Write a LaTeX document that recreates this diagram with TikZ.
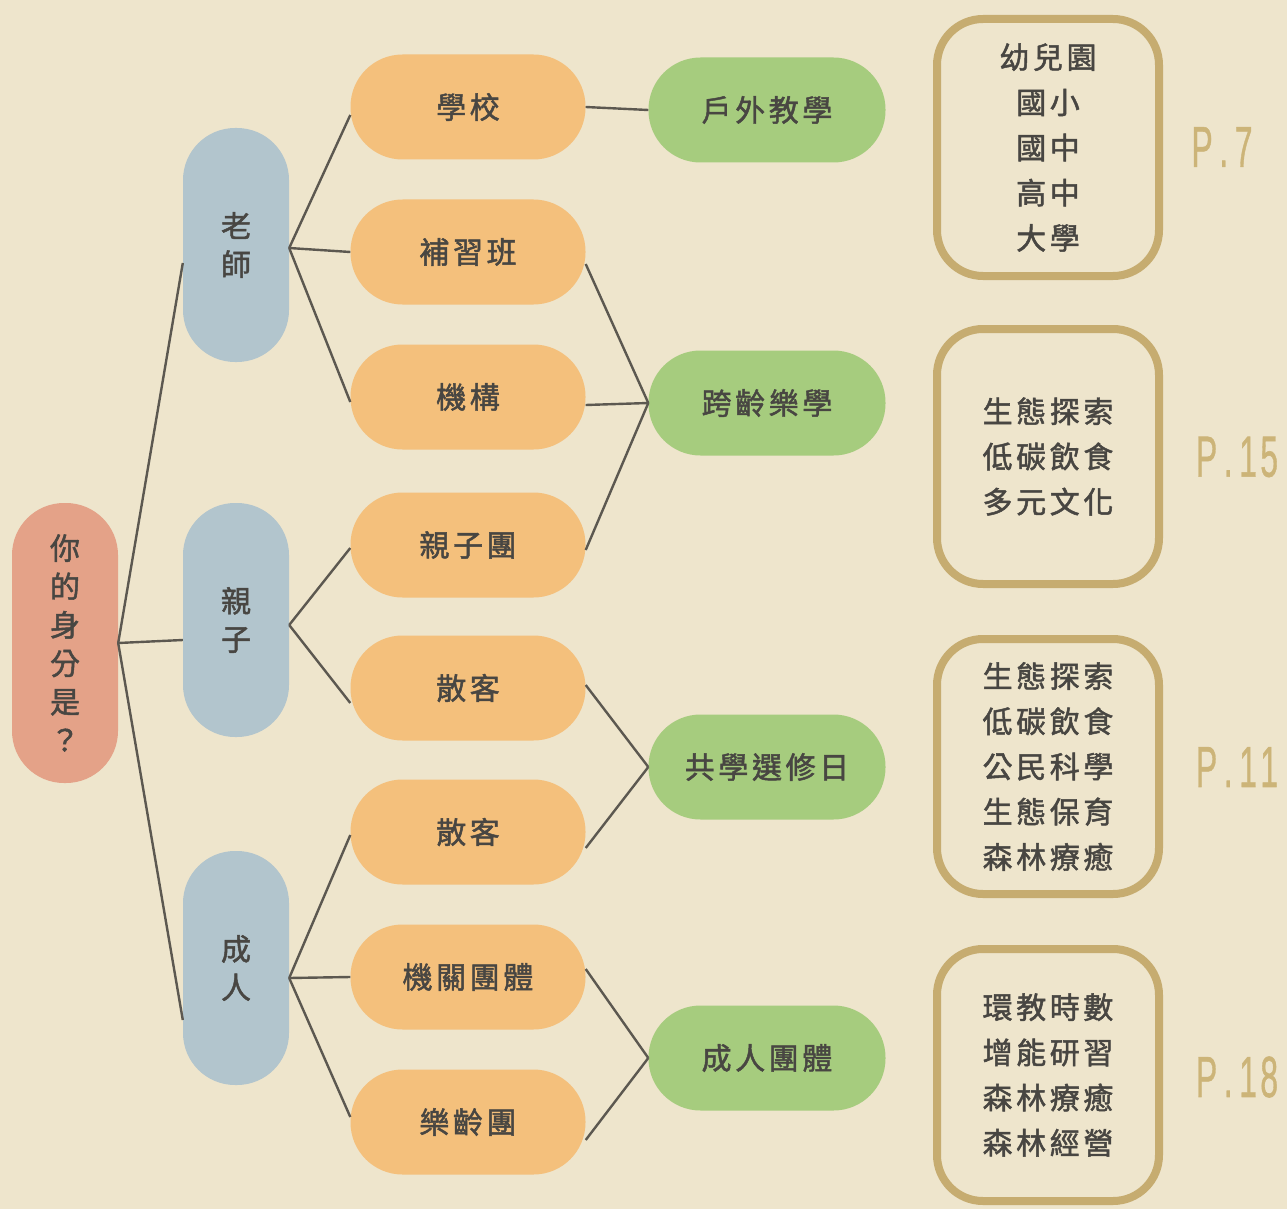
\documentclass[tikz,border=0pt]{standalone}
\usepackage{fontspec}
\setmainfont[FakeBold=1.6]{Noto Sans CJK TC}
\newfontfamily\cjkspaced[LetterSpace=12, FakeBold=1.6]{Noto Sans CJK TC}
\newfontfamily\pfont[FakeBold=1]{Liberation Sans}
\usetikzlibrary{calc}
\definecolor{paper}{RGB}{238,229,204}
\definecolor{salmon}{RGB}{228,162,136}
\definecolor{bluegray}{RGB}{178,197,205}
\definecolor{orangeb}{RGB}{244,192,124}
\definecolor{greenb}{RGB}{166,204,126}
\definecolor{tan}{RGB}{198,172,112}
\definecolor{ptext}{RGB}{204,180,120}
\definecolor{ink}{RGB}{72,70,66}
\definecolor{linec}{RGB}{92,88,80}
\tikzset{
  vpill/.style={fill=#1, rounded corners=52pt, minimum width=106pt, inner sep=0pt, text=ink, align=center,
    font=\fontsize{30}{38.4}\selectfont},
  hpill/.style={fill=#1, rounded corners=52pt, minimum width=235pt, minimum height=105pt, inner sep=0pt, text=ink,
    font=\cjkspaced\fontsize{30}{36}\selectfont},
  infobox/.style={draw=tan, line width=8pt, rounded corners=46pt, minimum width=222pt, inner sep=0pt, text=ink,
    align=center, font=\cjkspaced\fontsize{30}{45.2}\selectfont},
  plabel/.style={text=ptext, font=\pfont\fontsize{58}{58}\selectfont, xscale=0.55, inner sep=0pt},
  conn/.style={draw=linec, line width=2.4pt},
}
\begin{document}
\begin{tikzpicture}[x=1pt, y=-1pt]
\fill[paper] (0,0) rectangle (1287,1209);
\useasboundingbox (0,0) rectangle (1287,1209);

% level 0
\node[vpill=salmon, minimum height=280pt] (root) at (65,643) {你\\的\\身\\分\\是\\？};
% level 1
\node[vpill=bluegray, minimum height=234pt] (teach) at (236,245) {老\\師};
\node[vpill=bluegray, minimum height=234pt] (family) at (236,620) {親\\子};
\node[vpill=bluegray, minimum height=234pt] (adult) at (236,968) {成\\人};
% level 2
\node[hpill=orangeb] (school) at (468,107) {學校};
\node[hpill=orangeb] (cram) at (468,252) {補習班};
\node[hpill=orangeb] (inst) at (468,397) {機構};
\node[hpill=orangeb] (pcgroup) at (468,545) {親子團};
\node[hpill=orangeb] (walkA) at (468,688) {散客};
\node[hpill=orangeb] (walkB) at (468,832) {散客};
\node[hpill=orangeb] (org) at (468,977) {機關團體};
\node[hpill=orangeb] (senior) at (468,1122) {樂齡團};
% level 3
\node[hpill=greenb, minimum width=237pt] (outdoor) at (767,110) {戶外教學};
\node[hpill=greenb, minimum width=237pt] (cross) at (767,403) {跨齡樂學};
\node[hpill=greenb, minimum width=237pt] (coop) at (767,767) {共學選修日};
\node[hpill=greenb, minimum width=237pt] (adg) at (767,1058) {成人團體};
% info boxes
\node[infobox, minimum height=257pt] (b1) at (1048,147.5) {幼兒園\\國小\\國中\\高中\\大學};
\node[infobox, minimum height=255pt] (b2) at (1048,456.5) {生態探索\\低碳飲食\\多元文化};
\node[infobox, minimum height=255pt] (b3) at (1048,766.5) {生態探索\\低碳飲食\\公民科學\\生態保育\\森林療癒};
\node[infobox, minimum height=252pt] (b4) at (1048,1075) {環教時數\\增能研習\\森林療癒\\森林經營};
% page labels
\node[plabel] (p1) at (1222,147) {P\kern12pt.\kern12pt7};
\node[plabel] (p2) at (1237,457) {P\kern12pt.\kern12pt1\kern6pt5};
\node[plabel] (p3) at (1237,767) {P\kern12pt.\kern12pt1\kern6pt1};
\node[plabel] (p4) at (1237,1077) {P\kern12pt.\kern12pt1\kern6pt8};

% connectors
\draw[conn] (root.east) -- ($(teach.west)+(0,18)$);
\draw[conn] (root.east) -- ($(family.west)+(0,20)$);
\draw[conn] (root.east) -- ($(adult.west)+(0,52)$);

\draw[conn] ($(teach.east)+(0,3)$) -- ($(school.west)+(0,8)$);
\draw[conn] ($(teach.east)+(0,3)$) -- (cram.west);
\draw[conn] ($(teach.east)+(0,3)$) -- ($(inst.west)+(0,5)$);

\draw[conn] ($(family.east)+(0,5)$) -- ($(pcgroup.west)+(0,3)$);
\draw[conn] ($(family.east)+(0,5)$) -- ($(walkA.west)+(0,15)$);

\draw[conn] ($(adult.east)+(0,10)$) -- ($(walkB.west)+(0,3)$);
\draw[conn] ($(adult.east)+(0,10)$) -- (org.west);
\draw[conn] ($(adult.east)+(0,10)$) -- ($(senior.west)+(0,-5)$);

\draw[conn] (school.east) -- (outdoor.west);
\draw[conn] ($(cram.east)+(0,12)$) -- (cross.west);
\draw[conn] ($(inst.east)+(0,8)$) -- (cross.west);
\draw[conn] ($(pcgroup.east)+(0,5)$) -- (cross.west);
\draw[conn] ($(walkA.east)+(0,-3)$) -- (coop.west);
\draw[conn] ($(walkB.east)+(0,16)$) -- (coop.west);
\draw[conn] ($(org.east)+(0,-8)$) -- (adg.west);
\draw[conn] ($(senior.east)+(0,18)$) -- (adg.west);
\end{tikzpicture}
\end{document}
